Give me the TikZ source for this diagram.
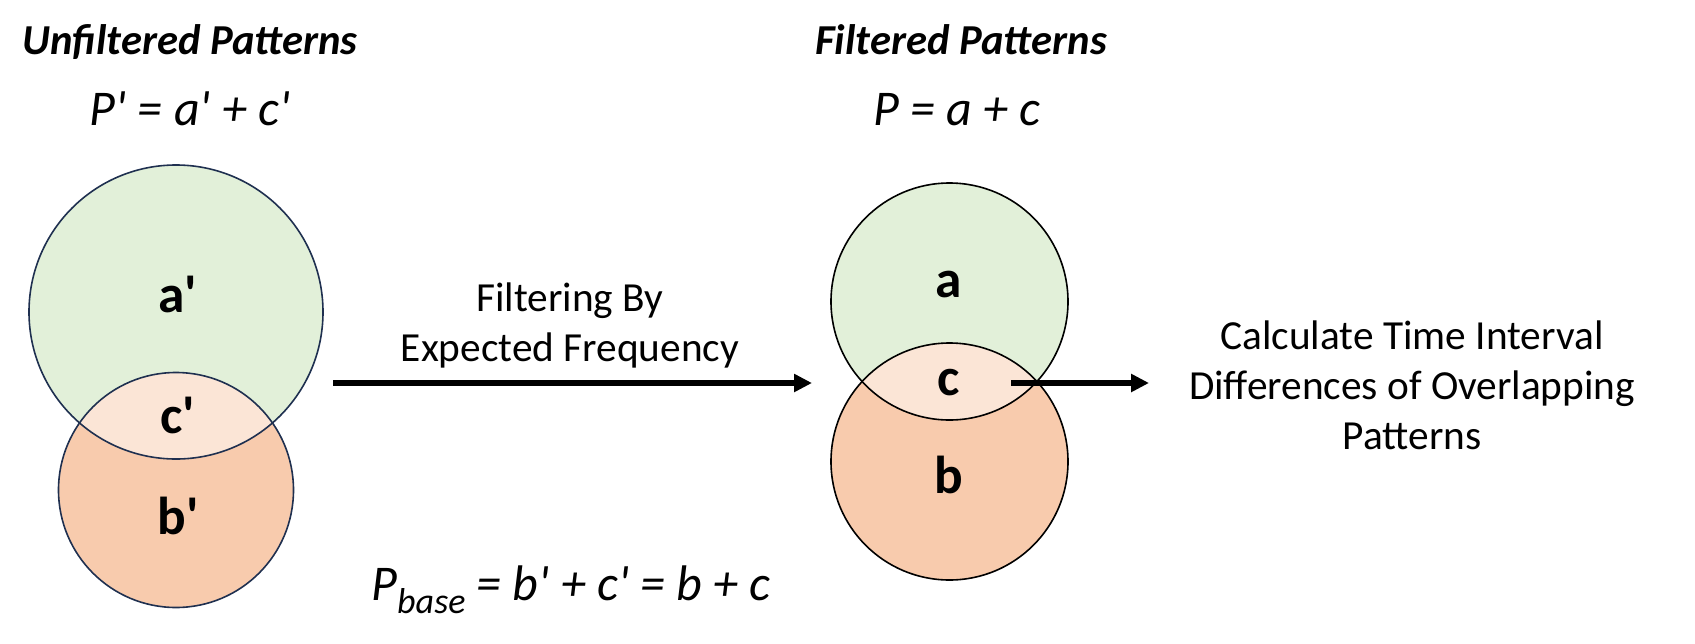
\documentclass[tikz,border=0pt]{standalone}
\usepackage{fontspec}
\setmainfont{Carlito}[Ligatures=TeXOff]
\usetikzlibrary{arrows.meta}
\definecolor{vgreen}{HTML}{E2F0D9}
\definecolor{vpeach}{HTML}{FBE5D6}
\definecolor{vorange}{HTML}{F8CBAD}
\definecolor{vnavy}{HTML}{1F3050}
\begin{document}
\begin{tikzpicture}[x=0.75pt,y=-0.75pt,
  lbl/.style={inner sep=0pt, anchor=base, font=\fontsize{40}{46}\selectfont\bfseries},
  titletext/.style={inner sep=0pt, anchor=base, font=\fontsize{32}{38}\selectfont\bfseries\itshape},
  formula/.style={inner sep=0pt, anchor=base, font=\fontsize{37.5}{44}\selectfont\itshape},
  note/.style={inner sep=0pt, align=center, font=\fontsize{31}{37.5}\selectfont},
  flow/.style={line width=4pt, -{Triangle[length=13.5pt,width=13pt]}},
  venn/.style={circle, inner sep=0pt, line width=1.2pt, draw},
]
\useasboundingbox (0,0) rectangle (1695,643);

% ---- left (unfiltered) Venn ----
\fill[vgreen] (176,312) circle [radius=110.25pt];
\fill[vorange] (176,490) circle [radius=88.125pt];
\begin{scope}
  \clip (176,312) circle [radius=110.25pt];
  \fill[vpeach] (176,490) circle [radius=88.125pt];
\end{scope}
\node[venn, draw=vnavy, minimum size=220.5pt] (la) at (176,312) {};
\node[venn, draw=vnavy, minimum size=176.25pt] (lb) at (176,490) {};
\node[lbl] (lalbl) at (178,312) {a'};
\node[lbl] (lclbl) at (178,433) {c'};
\node[lbl] (lblbl) at (178,534) {b'};

% ---- right (filtered) Venn ----
\fill[vgreen] (949.5,301.5) circle [radius=88.875pt];
\fill[vorange] (949.5,461.5) circle [radius=88.875pt];
\begin{scope}
  \clip (949.5,301.5) circle [radius=88.875pt];
  \fill[vpeach] (949.5,461.5) circle [radius=88.875pt];
\end{scope}
\node[venn, draw=black, minimum size=177.75pt] (ra) at (949.5,301.5) {};
\node[venn, draw=black, minimum size=177.75pt] (rb) at (949.5,461.5) {};
\node[lbl] (ralbl) at (949,297) {a};
\node[lbl] (rclbl) at (949,395) {c};
\node[lbl] (rblbl) at (949,493) {b};

% ---- titles and formulas ----
\node[titletext] (t1) at (190,54) {Unfiltered Patterns};
\node[formula] (f1) at (190,125) {P' = a' + c'};
\node[titletext] (t2) at (961,54) {Filtered Patterns};
\node[formula] (f2) at (957,125) {P = a + c};
\node[formula] (f3) at (571,600)
  {P\raisebox{-10pt}{\fontsize{27}{32}\selectfont base} = b' + c' = b + c};

% ---- arrows and notes ----
\node[note] (n1) at (570,325) {Filtering By\\Expected Frequency};
\node[note] (n2) at (1412,385) {Calculate Time Interval\\Differences of Overlapping\\Patterns};
\coordinate (s1) at (333,383);
\coordinate (e1) at (812,383);
\coordinate (s2) at (1011,383);
\coordinate (e2) at (1149,383);
\draw[flow] (s1) -- (e1);
\draw[flow] (s2) -- (e2);
\end{tikzpicture}
\end{document}
